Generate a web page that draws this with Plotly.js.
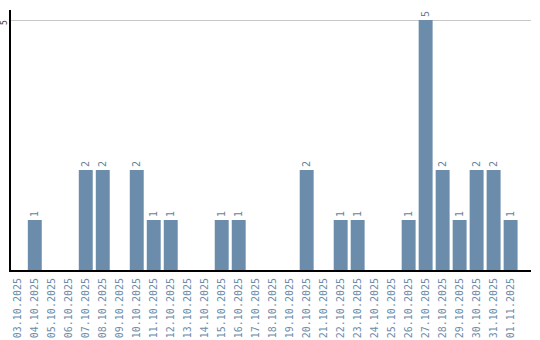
<!DOCTYPE html>
<html><head><meta charset="utf-8">
<script src="https://cdn.plot.ly/plotly-3.0.1.min.js"></script>
<style>html,body{margin:0;padding:0;background:#fff}</style>
</head><body>
<div id="chart" style="width:540px;height:340px"></div>
<script>
const dates = ["03.10.2025","04.10.2025","05.10.2025","06.10.2025","07.10.2025","08.10.2025","09.10.2025","10.10.2025","11.10.2025","12.10.2025","13.10.2025","14.10.2025","15.10.2025","16.10.2025","17.10.2025","18.10.2025","19.10.2025","20.10.2025","21.10.2025","22.10.2025","23.10.2025","24.10.2025","25.10.2025","26.10.2025","27.10.2025","28.10.2025","29.10.2025","30.10.2025","31.10.2025","01.11.2025"];
const counts = [0,1,0,0,2,2,0,2,1,1,0,0,1,1,0,0,0,2,0,1,1,0,0,1,5,2,1,2,2,1];
const yTicks = [5];
const labels = counts.map(v => v > 0 ? String(v) : "");
Plotly.newPlot("chart", [{
  type: "bar", x: dates, y: counts, text: labels,
  textposition: "outside", textangle: -90, cliponaxis: false,
  textfont: {family: "DejaVu Sans Mono", size: 10, color: "#6a7f95"},
  marker: {color: "#6b8cab"}, hoverinfo: "none"
}], {
  width: 540, height: 340,
  margin: {l: 11, r: 9, t: 10, b: 70, pad: 0},
  bargap: 0.18,
  showlegend: false,
  paper_bgcolor: "#fff", plot_bgcolor: "#fff",
  xaxis: {type: "category", range: [-0.4, 30.2], tickangle: -90, showline: true, linecolor: "#000", linewidth: 2,
    ticks: "", showgrid: false, ticklabelstandoff: 2,
    tickfont: {family: "DejaVu Sans Mono", size: 10, color: "#6b8cab"}},
  yaxis: {range: [0, 5.2], tickvals: yTicks, showticklabels: false,
    showline: true, linecolor: "#000", linewidth: 2, ticks: "", zeroline: false,
    gridcolor: "#c8c8c8", gridwidth: 1},
  annotations: yTicks.map(v => ({
    xref: "paper", yref: "y", x: 0, y: v, xanchor: "center", yanchor: "middle",
    xshift: -7, yshift: -3, textangle: -90, showarrow: false, text: String(v),
    font: {family: "DejaVu Sans Mono", size: 8, color: "#333"}
  }))
}, {staticPlot: true});
</script>
</body></html>
